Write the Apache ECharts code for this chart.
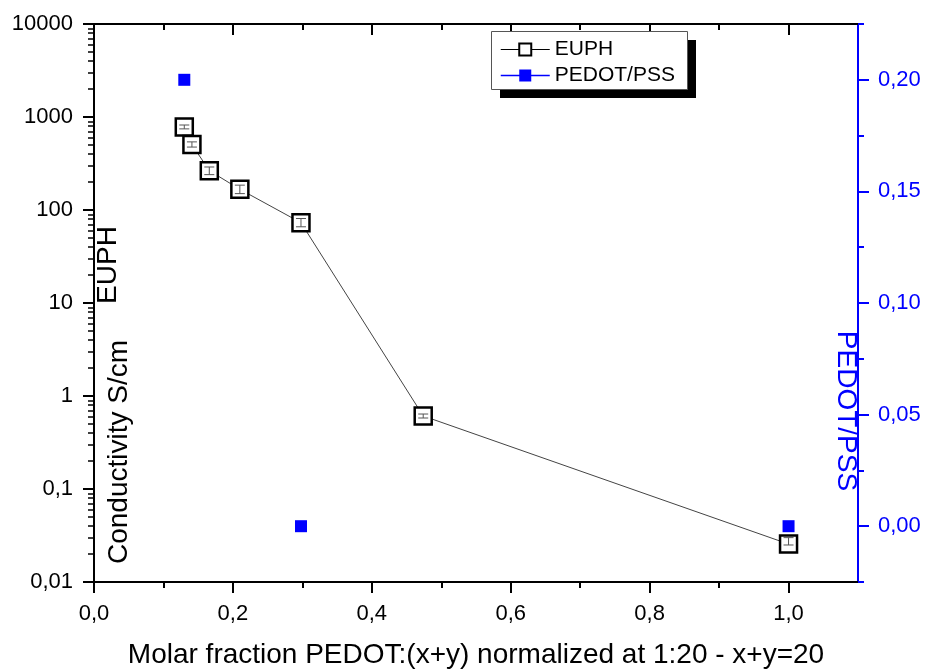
<!DOCTYPE html>
<html>
<head>
<meta charset="utf-8">
<title>Conductivity vs molar fraction</title>
<script src="https://cdn.jsdelivr.net/npm/echarts@6/dist/echarts.min.js"></script>
<style>
  html, body { margin: 0; padding: 0; background: #ffffff; }
  #chart { width: 927px; height: 670px; }
</style>
</head>
<body>
<div id="chart"></div>
<script>
// EUPH conductivity (S/cm, log scale) against molar fraction
const euphX = [0.130, 0.141, 0.166, 0.210, 0.298, 0.474, 1.0];
const euphY = [782, 505, 265, 167, 73, 0.61, 0.0256];
const euphErrLow = [745, 475, 240, 150, 66, 0.58, 0.0250];
const euphErrHigh = [820, 540, 290, 185, 81, 0.64, 0.0300];

// PEDOT/PSS values on the right-hand axis
const pedotX = [0.130, 0.298, 1.0];
const pedotY = [0.20, 0.00, 0.00];

// Tick values
const xMajorTicks = [0, 0.2, 0.4, 0.6, 0.8, 1.0];
const xMinorTicks = [0.1, 0.3, 0.5, 0.7, 0.9];
const rightMajorTicks = [0, 0.05, 0.10, 0.15, 0.20];
const rightMinorTicks = [-0.025, 0.025, 0.075, 0.125, 0.175, 0.225];
const logMinorMultipliers = [2, 3, 4, 5, 6, 7, 8, 9];
const logDecades = [-2, -1, 0, 1, 2, 3];

const FONT = '"Liberation Sans", Arial, sans-serif';
const BLUE = '#0000ff';

const comma = (s) => String(s).replace('.', ',');

// positions of the 2..9 minor ticks on the log axis, expressed in decades
const logMinorPositions = [];
logDecades.forEach(d => logMinorMultipliers.forEach(m => logMinorPositions.push(d + Math.log10(m))));

const chart = echarts.init(document.getElementById('chart'), null, { renderer: 'canvas' });

const blackLine = { show: true, onZero: false, lineStyle: { color: '#000', width: 2 } };
const noLine = { show: false, onZero: false };

const option = {
  backgroundColor: '#ffffff',
  animation: false,
  grid: { left: 94, right: 69, top: 24, bottom: 88, containLabel: false, outerBoundsMode: 'none' },
  graphic: [
    { type: 'rect', z: 3, shape: { x: 500, y: 40, width: 196, height: 58 }, style: { fill: '#000' } },
    { type: 'rect', z: 3, shape: { x: 491.5, y: 31.5, width: 196, height: 58 }, style: { fill: '#fff', stroke: '#555', lineWidth: 1 } },
    { type: 'text', x: 119.5, y: 452, rotation: Math.PI / 2,
      style: { text: 'Conductivity S/cm', font: '28px ' + FONT, fill: '#000', align: 'center', verticalAlign: 'middle' } },
    { type: 'text', x: 108, y: 265, rotation: Math.PI / 2,
      style: { text: 'EUPH', font: '28px ' + FONT, fill: '#000', align: 'center', verticalAlign: 'middle' } },
    { type: 'text', x: 846, y: 411, rotation: -Math.PI / 2,
      style: { text: 'PEDOT/PSS', font: '28px ' + FONT, fill: BLUE, align: 'center', verticalAlign: 'middle' } }
  ],
  legend: {
    orient: 'vertical',
    left: 500,
    top: 39,
    padding: 0,
    itemWidth: 49,
    itemHeight: 15,
    itemGap: 5,
    textStyle: { fontFamily: FONT, fontSize: 21, color: '#000' },
    data: [
      { name: 'EUPH', lineStyle: { color: '#000', width: 1, opacity: 1 } },
      { name: 'PEDOT/PSS', lineStyle: { color: BLUE, width: 1.5, opacity: 1 } }
    ]
  },
  xAxis: [
    {
      type: 'value', position: 'bottom', min: 0, max: 1.1, interval: 0.1,
      axisLine: blackLine,
      axisTick: { show: true, length: 11, lineStyle: { color: '#000', width: 2 }, customValues: xMajorTicks },
      axisLabel: { customValues: xMajorTicks, formatter: v => comma(v.toFixed(1)), fontFamily: FONT, fontSize: 22, color: '#000', margin: 21 },
      splitLine: { show: false },
      name: 'Molar fraction PEDOT:(x+y) normalized at 1:20 - x+y=20',
      nameLocation: 'middle', nameGap: 59,
      nameTextStyle: { fontFamily: FONT, fontSize: 28, color: '#000' }
    },
    {
      type: 'value', position: 'bottom', min: 0, max: 1.1, interval: 0.1,
      axisLine: noLine,
      axisTick: { show: true, length: 6, lineStyle: { color: '#000', width: 2 }, customValues: xMinorTicks },
      axisLabel: { show: false }, splitLine: { show: false }
    },
    {
      type: 'value', position: 'top', min: 0, max: 1.1, interval: 0.1,
      axisLine: blackLine,
      axisTick: { show: true, inside: true, length: 11, lineStyle: { color: '#000', width: 2 }, customValues: xMajorTicks },
      axisLabel: { show: false }, splitLine: { show: false }
    },
    {
      type: 'value', position: 'top', min: 0, max: 1.1, interval: 0.1,
      axisLine: noLine,
      axisTick: { show: true, inside: true, length: 6, lineStyle: { color: '#000', width: 2 }, customValues: xMinorTicks },
      axisLabel: { show: false }, splitLine: { show: false }
    }
  ],
  yAxis: [
    {
      type: 'log', logBase: 10, position: 'left', min: 0.01, max: 10000,
      axisLine: blackLine,
      axisTick: { show: true, length: 11, lineStyle: { color: '#000', width: 2 } },
      minorTick: { show: false },
      axisLabel: { formatter: v => comma(v), fontFamily: FONT, fontSize: 22, color: '#000', margin: 21 },
      splitLine: { show: false }
    },
    {
      type: 'value', position: 'left', min: -2, max: 4, interval: 1,
      axisLine: noLine,
      axisTick: { show: true, length: 6, lineStyle: { color: '#000', width: 1.5 }, customValues: logMinorPositions },
      axisLabel: { show: false }, splitLine: { show: false }
    },
    {
      type: 'value', position: 'right', min: -0.025, max: 0.225, interval: 0.025,
      axisLine: { show: true, onZero: false, lineStyle: { color: BLUE, width: 2 } },
      axisTick: { show: true, length: 11, lineStyle: { color: BLUE, width: 2 }, customValues: rightMajorTicks },
      axisLabel: { customValues: rightMajorTicks, formatter: v => comma(v.toFixed(2)), fontFamily: FONT, fontSize: 22, color: BLUE, margin: 20 },
      splitLine: { show: false }
    },
    {
      type: 'value', position: 'right', min: -0.025, max: 0.225, interval: 0.025,
      axisLine: noLine,
      axisTick: { show: true, length: 6, lineStyle: { color: BLUE, width: 2 }, customValues: rightMinorTicks },
      axisLabel: { show: false }, splitLine: { show: false }
    }
  ],
  series: [
    {
      name: 'EUPH',
      type: 'line',
      xAxisIndex: 0, yAxisIndex: 0,
      data: euphX.map((x, i) => [x, euphY[i]]),
      symbol: 'rect', symbolSize: 17,
      lineStyle: { color: '#444', width: 1 },
      itemStyle: { color: '#ffffff', borderColor: '#000', borderWidth: 2.5 },
      z: 3
    },
    {
      name: 'EUPH error',
      type: 'custom',
      xAxisIndex: 0, yAxisIndex: 0,
      data: euphX.map((x, i) => [x, euphErrLow[i], euphErrHigh[i]]),
      encode: { x: 0, y: [1, 2] },
      z: 4,
      renderItem: (params, api) => {
        const lo = api.coord([api.value(0), api.value(1)]);
        const hi = api.coord([api.value(0), api.value(2)]);
        const cap = 5;
        const style = { stroke: '#555', lineWidth: 1 };
        return {
          type: 'group',
          children: [
            { type: 'line', shape: { x1: lo[0], y1: lo[1], x2: hi[0], y2: hi[1] }, style },
            { type: 'line', shape: { x1: lo[0] - cap, y1: lo[1], x2: lo[0] + cap, y2: lo[1] }, style },
            { type: 'line', shape: { x1: hi[0] - cap, y1: hi[1], x2: hi[0] + cap, y2: hi[1] }, style }
          ]
        };
      }
    },
    {
      name: 'PEDOT/PSS',
      type: 'line',
      xAxisIndex: 0, yAxisIndex: 2,
      data: pedotX.map((x, i) => [x, pedotY[i]]),
      symbol: 'rect', symbolSize: 12,
      lineStyle: { width: 0, color: BLUE },
      itemStyle: { color: BLUE, borderWidth: 0 },
      z: 5
    }
  ]
};

chart.setOption(option);
</script>
</body>
</html>
